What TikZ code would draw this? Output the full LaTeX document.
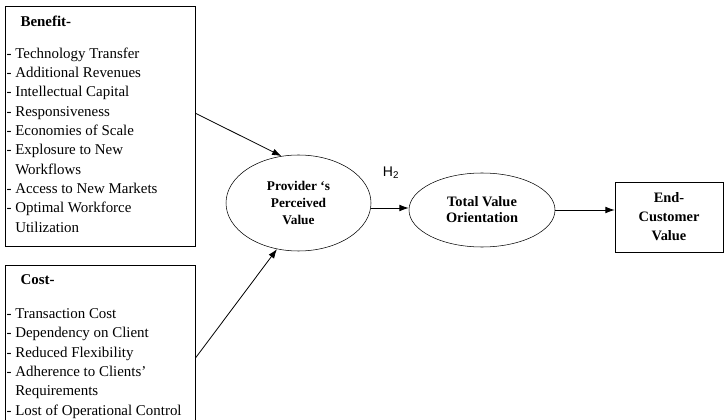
\documentclass[tikz,border=0pt]{standalone}
\usepackage{fontspec}
\setmainfont{Liberation Serif}
\newfontfamily\hfont{Liberation Sans}
\usepackage{tikz}
\usetikzlibrary{shapes.geometric, arrows.meta}

\begin{document}
\begin{tikzpicture}[x=0.75pt, y=-0.75pt,
    listbox/.style={draw, rectangle, anchor=north west, inner xsep=1pt, inner ysep=7pt,
                    font=\fontsize{11.2}{14.5}\selectfont},
    valnode/.style={draw, ellipse, inner sep=0pt, align=center, font=\bfseries},
    arr/.style={->, >={Latex[length=7pt,width=5pt]}, line width=0.6pt}]
  \useasboundingbox (0,0) rectangle (724,420);
  \clip (0,0) rectangle (724,420);

  % left boxes
  \node[listbox] (benefit) at (5,6) {\parbox[t][166pt][t]{140.5pt}{\raggedright
      \hspace*{10.5pt}\textbf{Benefit-}\\[9.5pt]
      - Technology Transfer\\
      - Additional Revenues\\
      - Intellectual Capital\\
      - Responsiveness\\
      - Economies of Scale\\
      - Explosure to New\\
      \hspace*{6.5pt}Workflows\\
      - Access to New Markets\\
      - Optimal Workforce\\
      \hspace*{6.5pt}Utilization}};
  \node[listbox] (cost) at (5,265) {\parbox[t][110pt][t]{140.5pt}{\raggedright
      \hspace*{10.5pt}\textbf{Cost-}\\[11pt]
      - Transaction Cost\\
      - Dependency on Client\\
      - Reduced Flexibility\\
      - Adherence to Clients'\\
      \hspace*{6.5pt}Requirements\\
      - Lost of Operational Control}};

  % values
  \node[valnode, minimum width=108.75pt, minimum height=72pt,
        font=\bfseries\fontsize{10}{13}\selectfont] (prov) at (298.5,203)
        {Provider `s\\Perceived\\Value};
  \node[valnode, minimum width=109.5pt, minimum height=55.5pt,
        font=\bfseries\fontsize{10.8}{12}\selectfont] (total) at (482,210)
        {Total Value\\Orientation};
  \node[draw, rectangle, minimum width=81pt, minimum height=52.5pt, align=center,
        font=\bfseries\fontsize{10.8}{14.25}\selectfont] (endval) at (669,217)
        {End-\\Customer\\Value};
  \node[font=\hfont\fontsize{10.5}{12}\selectfont] (h2) at (391,173) {H\textsubscript{2}};

  \draw[arr] ([yshift=9.75pt]benefit.east) -- (prov.110);
  \draw[arr] ([yshift=-7.5pt]cost.east) -- (prov.245);
  \draw[arr] ([yshift=-3.75pt]prov.east) -- ([yshift=-3.75pt]prov.east -| total.west);
  \draw[arr] (total.east) -- (total.east -| endval.west);
\end{tikzpicture}
\end{document}
